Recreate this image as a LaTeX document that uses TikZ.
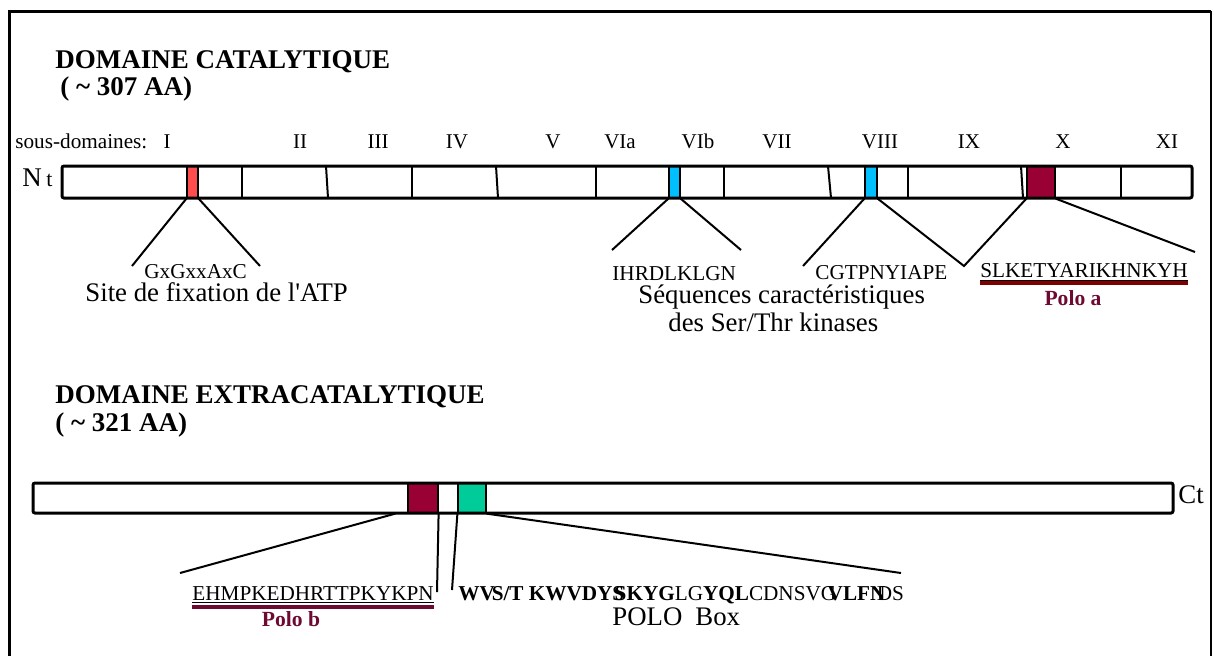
\documentclass[tikz,border=0pt]{standalone}
\usepackage{fontspec}
\setmainfont{Liberation Serif}

\definecolor{atpred}{RGB}{255,77,77}
\definecolor{kinblue}{RGB}{0,191,255}
\definecolor{polomaroon}{RGB}{153,0,51}
\definecolor{boxgreen}{RGB}{0,204,153}
\definecolor{polobar}{RGB}{128,0,0}
\definecolor{polotext}{RGB}{110,10,50}
% apostrophe droite (sans la substitution TeX)
\newcommand{\apos}{{\XeTeXglyph\XeTeXcharglyph"0027}}

\begin{document}
\begin{tikzpicture}[x=0.5pt,y=-0.5pt]
\tikzset{
  bar/.style={draw,line width=1.5pt,rounded corners=1pt},
  motif/.style={draw,line width=0.6pt,inner sep=0pt,minimum height=16pt},
  sep/.style={line width=1pt},
  link/.style={line width=1pt},
  title/.style={anchor=base west,inner sep=0pt,font=\fontsize{13.5}{15}\selectfont\bfseries},
  seq/.style={anchor=base west,inner sep=0pt,font=\fontsize{10.6}{12}\selectfont},
  legend/.style={anchor=base west,inner sep=0pt,font=\fontsize{13.4}{15}\selectfont},
  sd/.style={anchor=base,inner sep=0pt,font=\fontsize{10.5}{12}\selectfont},
  polo/.style={anchor=base,inner sep=0pt,text=polotext,font=\fontsize{10.8}{12}\selectfont\bfseries},
  pololine/.style={line width=2pt,draw=polobar}
}
\useasboundingbox (0,0) rectangle (1214,655);

% cadre
\draw[line width=1.5pt] (9,660) -- (9,11) -- (1211,11);
\draw[line width=1pt] (1211,11) -- (1211,660);

% domaine catalytique
\node[title] (cat) at (55,68) {DOMAINE CATALYTIQUE};
\node[title] (catlen) at (60,95) {( \textasciitilde\ 307 AA)};
\node[anchor=base west,inner sep=0pt,font=\fontsize{10.6}{12}\selectfont] (sous) at (15,148) {sous-domaines:};
\foreach \x/\n in {167/I,300/II,378/III,457/IV,553/V,620/VIa,698/VIb,777/VII,880/VIII,969/IX,1063/X,1167/XI}
  \node[sd] (sd\n) at (\x,148) {\n};

\node[motif,fill=atpred,minimum width=5.5pt] (atp) at (192.5,182) {};
\node[motif,fill=kinblue,minimum width=5.5pt] (vib) at (674.5,182) {};
\node[motif,fill=kinblue,minimum width=6pt] (viii) at (871,182) {};
\node[motif,fill=polomaroon,minimum width=14pt] (boxa) at (1041,182) {};
\draw[bar] (62,166) rectangle (1192,198);
\foreach \a/\b in {242/242,326/328,412/412,496/498,596/596,724/724,828/831,908/908,1021/1023,1121/1121}
  \draw[sep] (\a,166) -- (\b,198);
\node[anchor=base west,inner sep=0pt] (nt) at (22,186) {\fontsize{13.5}{15}\selectfont N\,\fontsize{11}{12}\selectfont t};

% motifs et sequences
\coordinate (atpL) at (132,266);
\coordinate (atpR) at (260,266);
\coordinate (vibL) at (612,250);
\coordinate (vibR) at (741,250);
\coordinate (viiiL) at (803,266);
\coordinate (vee) at (964,266);
\coordinate (boxaR) at (1195,252);
\draw[link] (atp.south west) -- (atpL);
\draw[link] (atp.south east) -- (atpR);
\draw[link] (vib.south west) -- (vibL);
\draw[link] (vib.south east) -- (vibR);
\draw[link] (viii.south west) -- (viiiL);
\draw[link] (viii.south east) -- (vee) -- (boxa.south west);
\draw[link] (boxa.south east) -- (boxaR);

\node[seq] (gxg) at (144,278) {GxGxxAxC};
\node[legend] (atpsite) at (85,301) {Site de fixation de l\apos ATP};
\node[seq] (ihrd) at (612,280) {IHRDLKLGN};
\node[seq] (cgtp) at (815,279) {CGTPNYIAPE};
\node[legend] (kin1) at (638,303) {Séquences caractéristiques};
\node[legend] (kin2) at (668,331) {des Ser/Thr kinases};
\node[seq] (seqa) at (980,277) {\underline{SLKETYARIKHNKYH}};
\draw[pololine] ([yshift=-3pt]seqa.base west) -- ([yshift=-3pt]seqa.base east);
\node[polo] (poloa) at (1073,305) {Polo a};

% domaine extracatalytique
\node[title] (extra) at (55,403) {DOMAINE EXTRACATALYTIQUE};
\node[title] (extralen) at (55,431) {( \textasciitilde\ 321 AA)};

\node[motif,fill=polomaroon,minimum width=15pt,minimum height=15pt] (boxb) at (423,498) {};
\node[motif,fill=boxgreen,minimum width=14pt,minimum height=15pt] (pbox) at (472,498) {};
\draw[bar] (33,483) rectangle (1173,513);
\node[anchor=base west,inner sep=0pt,font=\fontsize{13.4}{15}\selectfont] (ct) at (1178,503) {Ct};

\coordinate (boxbL) at (180,573);
\coordinate (boxbR) at (437,592);
\coordinate (pboxL) at (452,590);
\coordinate (pboxR) at (901,573);
\draw[link] ([xshift=-6pt]boxb.south west) -- (boxbL);
\draw[link] (boxb.south east) -- (boxbR);
\draw[link] (pbox.south west) -- (pboxL);
\draw[link] (pbox.south east) -- (pboxR);

\node[seq] (seqb) at (192,600) {\underline{EHMPKEDHRTTPKYKPN}};
\draw[pololine,draw=polotext] ([yshift=-3.5pt]seqb.base west) -- ([yshift=-3.5pt]seqb.base east);
\node[polo] (polob) at (291,626) {Polo b};
\node[seq] (seqbox) at (458,600) {\textbf{WV}\kern-.15em\textbf{S/T KWVDYS}\kern-.45em\textbf{SKYG}LG\textbf{YQL}CDNSVG\kern-.4em\textbf{VLFN}\kern-.4em DS};
\node[legend] (polobox) at (612,625) {POLO\hspace{6.5pt}Box};
\end{tikzpicture}
\end{document}
